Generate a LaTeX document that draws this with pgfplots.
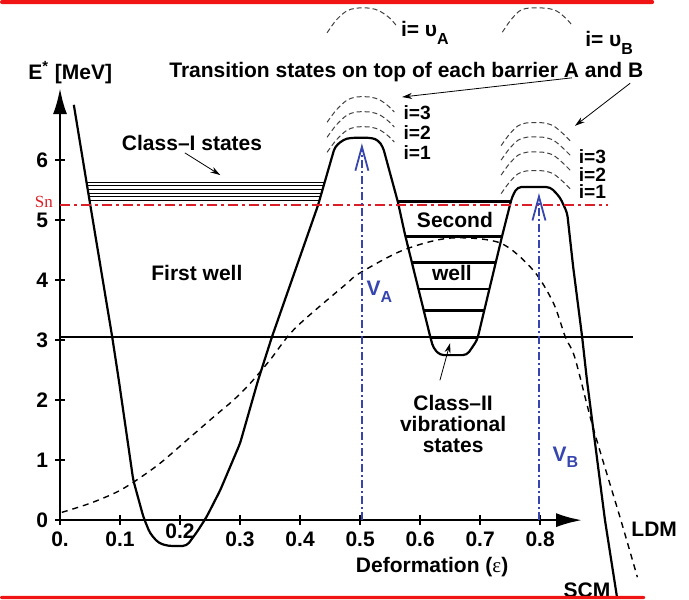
\documentclass[border=0pt]{standalone}
\usepackage{fontspec}
\setmainfont{Liberation Sans}
\newfontfamily\seriffont{Liberation Serif}
\usepackage{pgfplots}
\pgfplotsset{compat=1.18}
\usetikzlibrary{arrows.meta}
\definecolor{vblue}{RGB}{55,70,175}
\definecolor{snred}{RGB}{220,30,40}
\definecolor{barred}{RGB}{240,20,20}
\newcommand{\fs}{\fontsize{10.5}{10.5}\selectfont\bfseries}
\newcommand{\fsi}{\fontsize{9.6}{9.6}\selectfont\bfseries}
\begin{document}
\begin{tikzpicture}[font=\fs]
\begin{axis}[
  x=300pt, y=30pt,
  xmin=0, xmax=0.87, ymin=0, ymax=7.2,
  axis lines=left,
  axis line style={line width=1.3pt, -{Latex[length=13pt,width=7pt]}},
  clip=false,
  xtick={0,0.1,0.2,0.3,0.4,0.5,0.6,0.7,0.8},
  xticklabels={0.,0.1,{\raisebox{4pt}[\height][\depth]{0.2}},0.3,0.4,0.5,0.6,0.7,0.8},
  ytick={0,1,2,3,4,5,6},
  yticklabels={0,1,2,3,4,5,6},
  tick align=center,
  major tick length=5pt,
  tick style={line width=1pt,black},
  ticklabel style={font=\fs},
]
% SCM barrier
\addplot[black, line width=1.1pt, rounded corners=2pt] coordinates {
(0.023,6.92) (0.045,5.58) (0.087,3.05) (0.098,2.33) (0.122,0.67) (0.139,0.05)
(0.15,-0.22) (0.164,-0.38) (0.18,-0.43) (0.211,-0.43) (0.228,-0.2) (0.244,0.05)
(0.267,0.5) (0.3,1.28) (0.33,2.33) (0.353,3.05) (0.43,5.25) (0.458,6.22)
(0.472,6.34) (0.483,6.37) (0.52,6.37) (0.53,6.33) (0.538,6.22) (0.563,5.3)
(0.575,4.75) (0.617,3.05) (0.622,2.87) (0.633,2.75) (0.678,2.75) (0.695,3.0)
(0.737,4.75) (0.753,5.38) (0.762,5.55) (0.817,5.55) (0.833,5.38) (0.845,5.12)
(0.855,4.22) (0.87,3.05) (0.878,2.33) (0.908,0) (0.928,-1.28)};
% LDM
\addplot[black, line width=0.7pt, dash pattern=on 3pt off 2.5pt, smooth] coordinates {
(0.003,0.13) (0.05,0.28) (0.095,0.47) (0.128,0.67) (0.167,0.95) (0.211,1.33)
(0.256,1.72) (0.289,2.0) (0.317,2.28) (0.35,2.67) (0.392,3.2) (0.475,3.92)
(0.5,4.12) (0.572,4.5) (0.65,4.7) (0.733,4.62) (0.788,4.17) (0.822,3.62)
(0.842,3.05) (0.858,2.7) (0.888,1.55) (0.933,0.05) (0.962,-0.95)};
% horizontal line
\addplot[black, line width=0.9pt] coordinates {(0,3.05) (0.955,3.05)};
% Sn line
\addplot[snred, line width=1.3pt, dash pattern=on 5pt off 2pt on 1.5pt off 2pt] coordinates {(0,5.25) (0.913,5.25)};
% class I states
\addplot[black, line width=0.5pt] coordinates {(0.0443,5.62) (0.4407,5.62)};
\addplot[black, line width=0.5pt] coordinates {(0.0452,5.57) (0.4392,5.57)};
\addplot[black, line width=0.5pt] coordinates {(0.0462,5.51) (0.4375,5.51)};
\addplot[black, line width=0.5pt] coordinates {(0.0471,5.45) (0.4358,5.45)};
\addplot[black, line width=0.5pt] coordinates {(0.0481,5.39) (0.4341,5.39)};
\addplot[black, line width=0.5pt] coordinates {(0.0493,5.32) (0.4320,5.32)};
% second well levels
\addplot[black, line width=1.4pt] coordinates {(0.563,5.31) (0.751,5.31)};
\addplot[black, line width=1.4pt] coordinates {(0.575,4.73) (0.737,4.73)};
\addplot[black, line width=1.4pt] coordinates {(0.587,4.29) (0.725,4.29)};
\addplot[black, line width=1.4pt] coordinates {(0.597,3.85) (0.714,3.85)};
\addplot[black, line width=1.4pt] coordinates {(0.606,3.49) (0.706,3.49)};
\addplot[black, line width=1.4pt] coordinates {(0.617,3.05) (0.695,3.05)};
% V arrows
\addplot[vblue, line width=0.9pt, dash pattern=on 4pt off 1.5pt on 1pt off 1.5pt, -{Straight Barb[length=12pt,width=6.5pt]}] coordinates {(0.503,0) (0.503,6.28)};
\addplot[vblue, line width=0.9pt, dash pattern=on 4pt off 1.5pt on 1pt off 1.5pt, -{Straight Barb[length=12pt,width=6.5pt]}] coordinates {(0.798,0) (0.798,5.45)};
% transition-state arcs, barrier A
\addplot[black!75, line width=0.5pt, dash pattern=on 2.5pt off 1.5pt, smooth] coordinates {
(0.445,6.13) (0.46,6.33) (0.477,6.49) (0.493,6.55) (0.517,6.55) (0.533,6.5) (0.547,6.4) (0.557,6.3)};
\addplot[black!75, line width=0.5pt, dash pattern=on 2.5pt off 1.5pt, smooth] coordinates {
(0.445,6.38) (0.46,6.58) (0.477,6.74) (0.493,6.8) (0.517,6.8) (0.533,6.75) (0.547,6.65) (0.557,6.55)};
\addplot[black!75, line width=0.5pt, dash pattern=on 2.5pt off 1.5pt, smooth] coordinates {
(0.445,6.63) (0.46,6.83) (0.477,6.99) (0.493,7.05) (0.517,7.05) (0.533,7.0) (0.547,6.9) (0.557,6.8)};
\addplot[black!75, line width=0.5pt, dash pattern=on 2.5pt off 1.5pt, smooth] coordinates {
(0.445,8.12) (0.46,8.33) (0.477,8.48) (0.493,8.53) (0.517,8.53) (0.533,8.48) (0.55,8.36) (0.562,8.22)};
% transition-state arcs, barrier B
\addplot[black!75, line width=0.5pt, dash pattern=on 2.5pt off 1.5pt, smooth] coordinates {
(0.735,5.44) (0.748,5.62) (0.763,5.77) (0.778,5.82) (0.805,5.82) (0.822,5.77) (0.838,5.64) (0.852,5.5)};
\addplot[black!75, line width=0.5pt, dash pattern=on 2.5pt off 1.5pt, smooth] coordinates {
(0.735,5.75) (0.748,5.93) (0.763,6.08) (0.778,6.13) (0.805,6.13) (0.822,6.08) (0.838,5.95) (0.852,5.81)};
\addplot[black!75, line width=0.5pt, dash pattern=on 2.5pt off 1.5pt, smooth] coordinates {
(0.735,6.0) (0.748,6.18) (0.763,6.33) (0.778,6.38) (0.805,6.38) (0.822,6.33) (0.838,6.2) (0.852,6.06)};
\addplot[black!75, line width=0.5pt, dash pattern=on 2.5pt off 1.5pt, smooth] coordinates {
(0.735,6.24) (0.748,6.42) (0.763,6.57) (0.778,6.62) (0.805,6.62) (0.822,6.57) (0.838,6.44) (0.852,6.3)};
\addplot[black!75, line width=0.5pt, dash pattern=on 2.5pt off 1.5pt, smooth] coordinates {
(0.737,8.13) (0.75,8.32) (0.765,8.48) (0.78,8.53) (0.81,8.53) (0.828,8.48) (0.843,8.36) (0.853,8.25)};
% text
\node at (axis cs:0.017,7.45) {E\textsuperscript{*} [MeV]};
\node at (axis cs:0.577,7.47) {Transition states on top of each barrier A and B};
\node at (axis cs:0.22,6.28) {Class–I states};
\node at (axis cs:0.228,4.12) {First well};
\node[snred, font=\seriffont\fontsize{8.5}{10}\selectfont] at (axis cs:-0.027,5.3) {Sn};
\node at (axis cs:0.658,5.0) {Second};
\node at (axis cs:0.653,4.12) {well};
\node[align=center] at (axis cs:0.655,1.6) {Class–II\\vibrational\\states};
\node[vblue] at (axis cs:0.532,3.8) {V\raisebox{-0.6ex}{\footnotesize A}};
\node[vblue] at (axis cs:0.842,1.05) {V\raisebox{-0.6ex}{\footnotesize B}};
\node[inner sep=0pt, font=\fsi] at (axis cs:0.595,6.79) {i=3};
\node[inner sep=0pt, font=\fsi] at (axis cs:0.595,6.46) {i=2};
\node[inner sep=0pt, font=\fsi] at (axis cs:0.595,6.12) {i=1};
\node[inner sep=0pt, font=\fsi] at (axis cs:0.887,6.06) {i=3};
\node[inner sep=0pt, font=\fsi] at (axis cs:0.887,5.765) {i=2};
\node[inner sep=0pt, font=\fsi] at (axis cs:0.887,5.47) {i=1};
\node at (axis cs:0.608,8.12) {i= υ\raisebox{-0.7ex}{\footnotesize A}};
\node at (axis cs:0.915,7.95) {i= υ\raisebox{-0.7ex}{\footnotesize B}};
\node at (axis cs:0.62,-0.78) {Deformation ({\seriffont\mdseries ε})};
\node at (axis cs:0.99,-0.15) {LDM};
\node at (axis cs:0.878,-1.17) {SCM};
% annotation arrows
\draw[-{Stealth[length=5pt,width=3pt]}, line width=0.4pt] (axis cs:0.208,6.12) -- (axis cs:0.267,5.75);
\draw[-{Stealth[length=5pt,width=3pt]}, line width=0.4pt] (axis cs:0.853,7.37) -- (axis cs:0.57,7.05);
\draw[-{Stealth[length=5pt,width=3pt]}, line width=0.4pt] (axis cs:0.95,7.28) -- (axis cs:0.858,6.57);
\draw[-{Stealth[length=5pt,width=3pt]}, line width=0.4pt] (axis cs:0.633,2.33) -- (axis cs:0.65,2.95);
% frame bars
\fill[barred, rounded corners=1pt] (axis cs:-0.1,8.6) rectangle (axis cs:0.99,8.667);
\fill[barred, rounded corners=1pt] (axis cs:-0.1,-1.317) rectangle (axis cs:0.975,-1.26);
\coordinate (BL) at (axis cs:-0.1,-1.317);
\coordinate (TR) at (axis cs:1.048,8.667);
\end{axis}
\pgfresetboundingbox
\path[use as bounding box] (BL) rectangle (TR);
\end{tikzpicture}
\end{document}
